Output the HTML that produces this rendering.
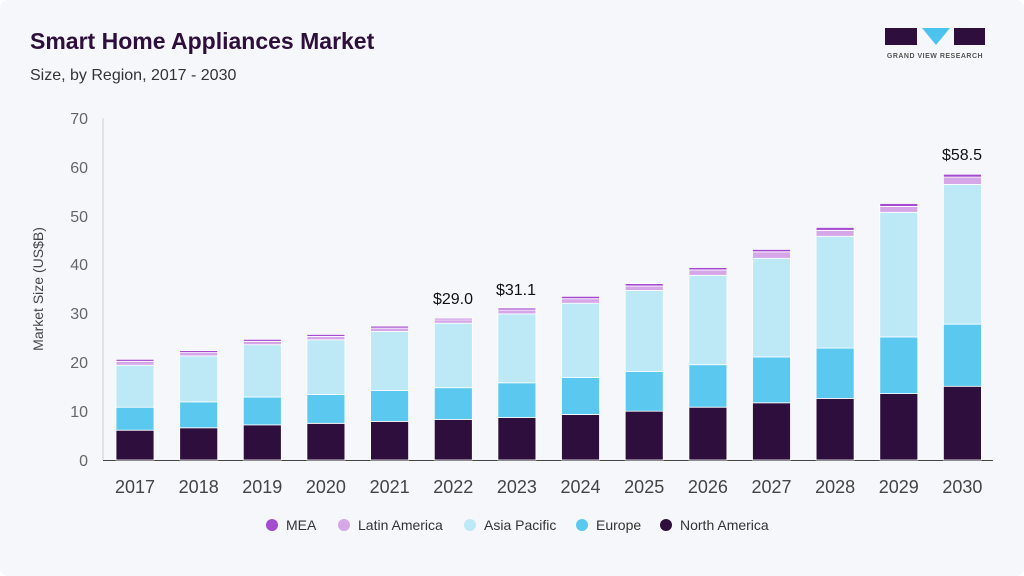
<!DOCTYPE html>
<html><head><meta charset="utf-8"><style>
body{margin:0;background:#fff}
.wrap{width:1024px;height:576px;position:relative;background:#f5f7fb;font-family:"Liberation Sans",sans-serif;overflow:hidden;border-radius:8px}
</style></head><body><div class="wrap">
<svg width="1024" height="576" xmlns="http://www.w3.org/2000/svg" font-family="Liberation Sans, sans-serif">
<text x="30" y="49" font-size="23" font-weight="bold" fill="#2d0e3d">Smart Home Appliances Market</text>
<text x="30" y="80" font-size="16" fill="#333">Size, by Region, 2017 - 2030</text>
<g>
<rect x="885" y="28" width="32" height="17" fill="#2d0e3d"/>
<polygon points="922,28 950,28 936,45" fill="#4cc3ee"/>
<rect x="954" y="28" width="31" height="17" fill="#2d0e3d"/>
<text x="935" y="58" font-size="7" font-weight="bold" fill="#555" text-anchor="middle" letter-spacing="0.5">GRAND VIEW RESEARCH</text>
</g>
<g font-size="16" fill="#666" text-anchor="end">
<text x="88" y="466">0</text><text x="88" y="417">10</text><text x="88" y="368">20</text><text x="88" y="319">30</text><text x="88" y="270">40</text><text x="88" y="222">50</text><text x="88" y="173">60</text><text x="88" y="124">70</text>
</g>
<text transform="translate(43,289) rotate(-90)" font-size="14" fill="#444" text-anchor="middle">Market Size (US$B)</text>
<line x1="103" y1="118" x2="103" y2="460" stroke="#ccc"/>
<line x1="103" y1="460.5" x2="993" y2="460.5" stroke="#444"/>
<g id="bars"></g>
<g font-size="16" fill="#111" text-anchor="middle">
<text x="453" y="304">$29.0</text><text x="516" y="295">$31.1</text><text x="962" y="160">$58.5</text>
</g>
<g font-size="14" fill="#333">
<circle cx="272" cy="525" r="6" fill="#a44bd0"/><text x="286" y="530">MEA</text>
<circle cx="344" cy="525" r="6" fill="#d5a6e8"/><text x="358" y="530">Latin America</text>
<circle cx="470" cy="525" r="6" fill="#bde8f6"/><text x="484" y="530">Asia Pacific</text>
<circle cx="582" cy="525" r="6" fill="#5bc8ef"/><text x="596" y="530">Europe</text>
<circle cx="666" cy="525" r="6" fill="#2d0e3d"/><text x="680" y="530">North America</text>
</g>
</svg>
<script>
var d=[[2017,6.1,10.8,19.4,20.2,20.6],[2018,6.6,11.9,21.3,22.0,22.4],[2019,7.2,12.9,23.6,24.3,24.7],[2020,7.5,13.4,24.6,25.3,25.7],[2021,7.9,14.2,26.3,27.0,27.4],[2022,8.3,14.8,28.0,28.7,29.0],[2023,8.7,15.8,29.9,30.7,31.1],[2024,9.3,16.9,32.1,33.0,33.5],[2025,10.0,18.1,34.7,35.6,36.1],[2026,10.8,19.5,37.8,38.9,39.4],[2027,11.7,21.1,41.3,42.6,43.1],[2028,12.6,22.9,45.8,47.0,47.6],[2029,13.6,25.2,50.7,51.9,52.5],[2030,15.1,27.8,56.4,57.9,58.5]];
var c=["#2d0e3d","#5bc8ef","#bde8f6","#d5a6e8","#a44bd0"];
var s="";
function y(v){return 460-v*4.886;}
d.forEach(function(r,i){var cx=135+i*63.65,x=cx-19,p=0;
for(var k=1;k<=5;k++){var t=y(r[k]),b=y(p);s+='<rect x="'+x.toFixed(1)+'" y="'+t.toFixed(1)+'" width="38" height="'+Math.max(0,b-t-(k>1?0:0)).toFixed(1)+'" fill="'+c[k-1]+'" stroke="#fff" stroke-width="0.8"/>';p=r[k];}
s+='<text x="'+cx.toFixed(1)+'" y="493" font-size="18" fill="#444" text-anchor="middle">'+r[0]+'</text>';});
document.getElementById("bars").innerHTML=s;
</script>
</div></body></html>
